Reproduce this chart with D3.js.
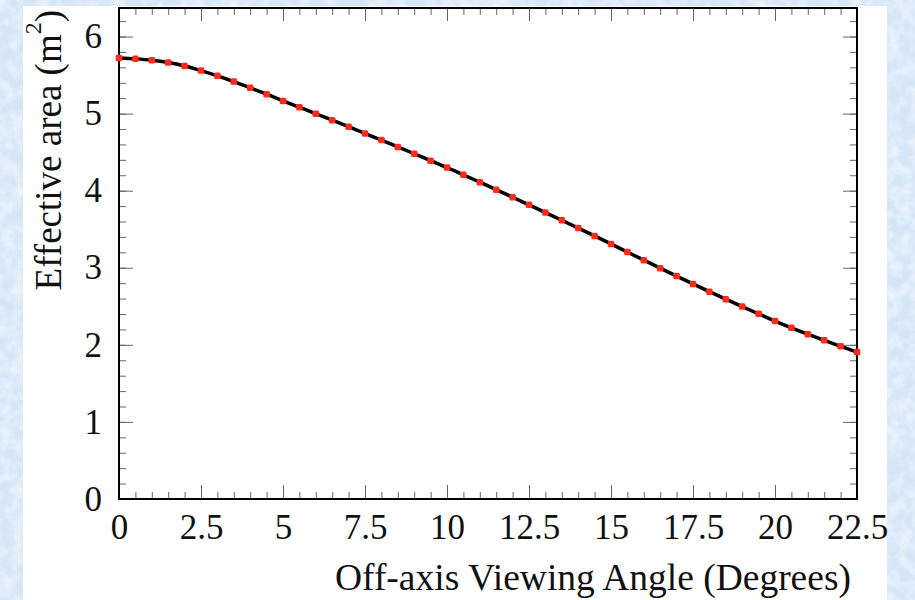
<!DOCTYPE html>
<html>
<head>
<meta charset="utf-8">
<script src="https://cdn.jsdelivr.net/npm/d3@7"></script>
<style>
  body { margin: 0; }
  svg { display: block; }
  .tick text { font-family: "Liberation Serif", "DejaVu Serif", serif; }
</style>
</head>
<body>
<div id="chart"></div>
<script>
// off-axis angle in degrees, sampled every 0.5
const angles = [0, 0.5, 1, 1.5, 2, 2.5, 3, 3.5, 4, 4.5, 5, 5.5, 6, 6.5, 7, 7.5, 8, 8.5, 9, 9.5,
    10, 10.5, 11, 11.5, 12, 12.5, 13, 13.5, 14, 14.5, 15, 15.5, 16, 16.5, 17, 17.5, 18, 18.5, 19, 19.5,
    20, 20.5, 21, 21.5, 22, 22.5];
// effective area (m^2)
const areas = [5.72, 5.71, 5.693, 5.663, 5.618, 5.558, 5.49, 5.415, 5.335, 5.252, 5.165, 5.083, 4.998, 4.915, 4.83, 4.742, 4.656, 4.568, 4.479, 4.389,
    4.30, 4.206, 4.11, 4.013, 3.915, 3.816, 3.716, 3.616, 3.515, 3.413, 3.309, 3.204, 3.099, 2.995, 2.892, 2.79, 2.69, 2.592, 2.496, 2.402,
    2.309, 2.221, 2.138, 2.059, 1.981, 1.906];
const xTicks = [0, 2.5, 5, 7.5, 10, 12.5, 15, 17.5, 20, 22.5];
const yTicks = [0, 1, 2, 3, 4, 5, 6];

const data = angles.map((a, i) => ({ angle: a, area: areas[i] }));

const W = 915, H = 600;
const margin = { top: 8, right: 58, bottom: 101, left: 119 };
const width = W - margin.left - margin.right;
const height = H - margin.top - margin.bottom;

const xScale = d3.scaleLinear().domain([0, 22.5]).range([0, width]);
const yScale = d3.scaleLinear().domain([0, 6.37]).range([height, 0]);

const xMinor = d3.range(0, 22.5001, 0.5);
const yMinor = d3.range(0, 6.37, 0.2);

const svg = d3.select("#chart")
    .append("svg")
    .attr("width", W)
    .attr("height", H);

// textured light blue page background
const defs = svg.append("defs");
const filter = defs.append("filter").attr("id", "paper").attr("x", 0).attr("y", 0).attr("width", "100%").attr("height", "100%");
filter.append("feTurbulence").attr("type", "fractalNoise").attr("baseFrequency", 0.08).attr("numOctaves", 3).attr("seed", 4).attr("result", "noise");
filter.append("feColorMatrix").attr("in", "noise").attr("type", "matrix")
    .attr("values", "0 0 0 0 1  0 0 0 0 1  0 0 0 0 1  1.6 0 0 0 -0.55");

svg.append("rect").attr("width", W).attr("height", H).attr("fill", "#d5e6f7");
svg.append("rect").attr("width", W).attr("height", H).attr("filter", "url(#paper)").attr("opacity", 0.7);

svg.append("rect")
    .attr("x", 23).attr("y", 6)
    .attr("width", 864).attr("height", H - 6)
    .attr("fill", "#fff");

const g = svg.append("g")
    .attr("transform", `translate(${margin.left},${margin.top})`);

function styleAxis(sel) {
    sel.select(".domain").remove();
    sel.selectAll(".tick line").attr("stroke", "#666").attr("stroke-width", 1);
    sel.selectAll(".tick text").attr("font-size", "35px").attr("fill", "#111");
}

// bottom
g.append("g").attr("transform", `translate(0,${height})`)
    .call(d3.axisBottom(xScale).tickValues(xMinor).tickSize(-7).tickFormat(""))
    .call(styleAxis);
g.append("g").attr("transform", `translate(0,${height})`)
    .call(d3.axisBottom(xScale).tickValues(xTicks).tickSize(-14).tickPadding(15).tickFormat(d => d))
    .call(styleAxis);
// top
g.append("g")
    .call(d3.axisTop(xScale).tickValues(xMinor).tickSize(-7).tickFormat(""))
    .call(styleAxis);
g.append("g")
    .call(d3.axisTop(xScale).tickValues(xTicks).tickSize(-13).tickFormat(""))
    .call(styleAxis);
// left
g.append("g")
    .call(d3.axisLeft(yScale).tickValues(yMinor).tickSize(-7).tickFormat(""))
    .call(styleAxis);
g.append("g")
    .call(d3.axisLeft(yScale).tickValues(yTicks).tickSize(-14).tickPadding(17).tickFormat(d => d))
    .call(styleAxis);
// right
g.append("g").attr("transform", `translate(${width},0)`)
    .call(d3.axisRight(yScale).tickValues(yMinor).tickSize(-7).tickFormat(""))
    .call(styleAxis);
g.append("g").attr("transform", `translate(${width},0)`)
    .call(d3.axisRight(yScale).tickValues(yTicks).tickSize(-14).tickFormat(""))
    .call(styleAxis);

// frame
g.append("rect")
    .attr("width", width).attr("height", height)
    .attr("fill", "none")
    .attr("stroke", "#000")
    .attr("stroke-width", 2);

// fitted curve
g.append("path")
    .datum(data)
    .attr("fill", "none")
    .attr("stroke", "#000")
    .attr("stroke-width", 3.5)
    .attr("d", d3.line()
        .curve(d3.curveCatmullRom.alpha(0.5))
        .x(d => xScale(d.angle))
        .y(d => yScale(d.area))
    );

// measured points
g.selectAll(".pt")
    .data(data)
    .enter().append("rect")
    .attr("class", "pt")
    .attr("x", d => xScale(d.angle) - 3.25)
    .attr("y", d => yScale(d.area) - 3.25)
    .attr("width", 6.5)
    .attr("height", 6.5)
    .attr("rx", 1.5)
    .attr("fill", "#ff2a1a");

// axis titles
svg.append("text")
    .attr("x", 851)
    .attr("y", 590)
    .attr("text-anchor", "end")
    .attr("font-family", "Liberation Serif, serif")
    .attr("font-size", "37.5px")
    .attr("fill", "#111")
    .text("Off-axis Viewing Angle (Degrees)");

const yTitle = svg.append("text")
    .attr("transform", "translate(61,10) rotate(-90)")
    .attr("text-anchor", "end")
    .attr("font-family", "Liberation Serif, serif")
    .attr("font-size", "37px")
    .attr("fill", "#111");
yTitle.append("tspan").text("Effective area (m");
yTitle.append("tspan").attr("font-size", "24px").attr("dy", -20).text("2");
yTitle.append("tspan").attr("dy", 20).text(")");
</script>
</body>
</html>
